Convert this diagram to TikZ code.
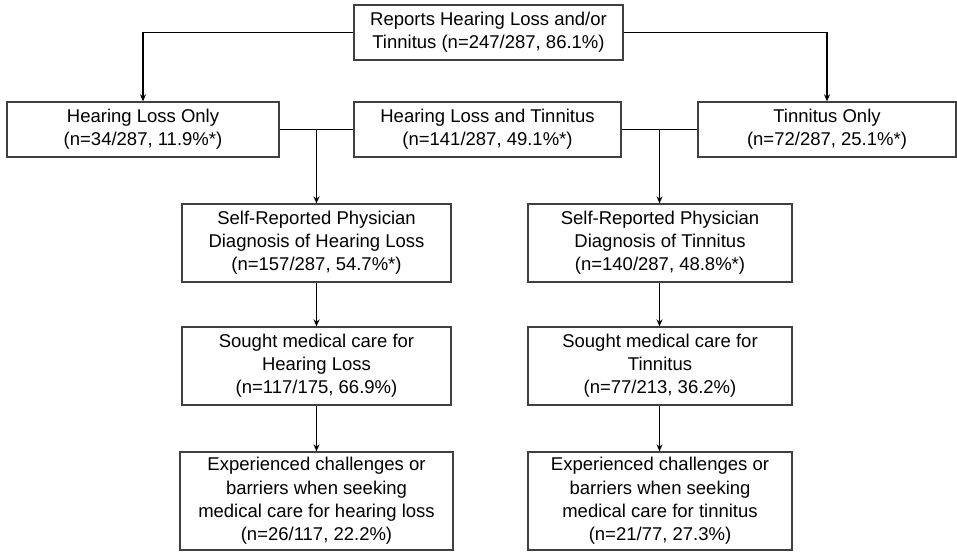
\documentclass[tikz,border=0pt]{standalone}
\usepackage{fontspec}
\setmainfont{Liberation Sans}
\usetikzlibrary{arrows.meta}
\begin{document}
\begin{tikzpicture}[x=1pt,y=-1pt,
  box/.style={draw=black!75,line width=1.3pt,align=center,inner sep=0pt,
    font=\fontsize{18.5}{23.2}\selectfont},
  conn/.style={draw=black,line width=1.3pt},
  arr/.style={conn,-{Stealth[length=7pt,width=6pt]}}]
\useasboundingbox (0,0) rectangle (957,553);
\node[box,minimum width=269pt,minimum height=55pt] (top) at (488.5,32.5)
  {Reports Hearing Loss and/or\\Tinnitus (n=247/287, 86.1\%)};
\node[box,minimum width=272pt,minimum height=55pt] (hlo) at (143,129.5)
  {Hearing Loss Only\\(n=34/287, 11.9\%*)};
\node[box,minimum width=267pt,minimum height=55pt] (hlt) at (487.5,129.5)
  {Hearing Loss and Tinnitus\\(n=141/287, 49.1\%*)};
\node[box,minimum width=258pt,minimum height=55pt] (tno) at (827,129.5)
  {Tinnitus Only\\(n=72/287, 25.1\%*)};
\node[box,minimum width=269pt,minimum height=78pt] (srhl) at (316.5,243)
  {Self-Reported Physician\\Diagnosis of Hearing Loss\\(n=157/287, 54.7\%*)};
\node[box,minimum width=264pt,minimum height=78pt] (srt) at (660,243)
  {Self-Reported Physician\\Diagnosis of Tinnitus\\(n=140/287, 48.8\%*)};
\node[box,minimum width=269pt,minimum height=78pt] (shl) at (316.5,366)
  {Sought medical care for\\Hearing Loss\\(n=117/175, 66.9\%)};
\node[box,minimum width=264pt,minimum height=78pt] (st) at (660,366)
  {Sought medical care for\\Tinnitus\\(n=77/213, 36.2\%)};
\node[box,minimum width=273pt,minimum height=98pt] (ehl) at (316.5,501)
  {Experienced challenges or\\barriers when seeking\\medical care for hearing loss\\(n=26/117, 22.2\%)};
\node[box,minimum width=264pt,minimum height=98pt] (et) at (660,501)
  {Experienced challenges or\\barriers when seeking\\medical care for tinnitus\\(n=21/77, 27.3\%)};
\coordinate (j1) at (316.5,129.5);
\coordinate (j2) at (659.5,129.5);
\draw[arr] (top.west) -| (hlo.north);
\draw[arr] (top.east) -| (tno.north);
\draw[conn] (hlo.east) -- (hlt.west);
\draw[conn] (hlt.east) -- (tno.west);
\draw[arr] (j1) -- (j1 |- srhl.north);
\draw[arr] (j2) -- (j2 |- srt.north);
\draw[arr] (srhl.south -| j1) -- (shl.north -| j1);
\draw[arr] (srt.south -| j2) -- (st.north -| j2);
\draw[arr] (shl.south -| j1) -- (ehl.north -| j1);
\draw[arr] (st.south -| j2) -- (et.north -| j2);
\end{tikzpicture}
\end{document}
